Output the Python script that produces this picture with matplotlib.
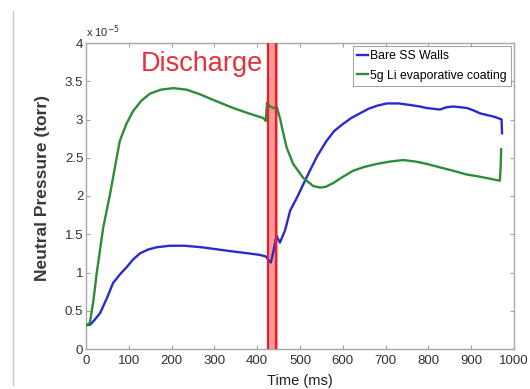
import matplotlib
matplotlib.use("Agg")
import matplotlib.pyplot as plt
from matplotlib.lines import Line2D

plt.rcParams['font.family'] = ['Liberation Sans', 'DejaVu Sans']

# Bare stainless-steel walls (pressure in units of 1e-5 torr)
bare_t = [0, 10, 20, 33, 50, 63, 80, 95, 110, 126, 145, 165, 196, 230, 270, 310, 350, 380,
          406, 420, 427, 432, 438, 445, 453, 465, 477, 493, 510, 523, 540, 562, 580, 600,
          620, 640, 660, 680, 703, 730, 757, 780, 796, 812, 827, 842, 858, 875, 890, 905,
          921, 936, 951, 962, 971, 972]
bare_p = [0.31, 0.32, 0.38, 0.47, 0.68, 0.86, 0.98, 1.07, 1.17, 1.25, 1.30, 1.33, 1.35, 1.35,
          1.33, 1.30, 1.27, 1.25, 1.23, 1.21, 1.16, 1.13, 1.28, 1.48, 1.39, 1.55, 1.81, 1.98,
          2.18, 2.33, 2.52, 2.72, 2.85, 2.94, 3.02, 3.08, 3.14, 3.18, 3.21, 3.21, 3.19, 3.17,
          3.15, 3.14, 3.13, 3.16, 3.17, 3.16, 3.15, 3.12, 3.08, 3.06, 3.04, 3.02, 3.00, 2.82]

# Lithium-coated walls (5 g evaporative coating)
li_t = [0, 9, 17, 25, 40, 56, 70, 79, 95, 110, 130, 150, 175, 204, 235, 266, 300, 344, 380,
        414, 420, 423, 430, 438, 446, 453, 461, 469, 484, 507, 531, 547, 560, 578, 600, 624,
        650, 680, 710, 741, 770, 796, 830, 858, 890, 913, 940, 967, 969, 970]
li_p = [0.31, 0.34, 0.62, 0.99, 1.58, 2.02, 2.45, 2.72, 2.95, 3.11, 3.25, 3.34, 3.39, 3.41,
        3.39, 3.33, 3.25, 3.15, 3.08, 3.02, 2.98, 3.22, 3.17, 3.15, 3.16, 3.02, 2.82, 2.63,
        2.42, 2.24, 2.13, 2.11, 2.12, 2.17, 2.25, 2.33, 2.38, 2.42, 2.45, 2.47, 2.45, 2.42,
        2.37, 2.33, 2.28, 2.26, 2.23, 2.20, 2.40, 2.61]

discharge_start, discharge_end = 423, 448
discharge_lines = [426, 444]

x_ticks = [0, 100, 200, 300, 400, 500, 600, 700, 800, 900, 1000]
y_ticks = [0, 0.5, 1, 1.5, 2, 2.5, 3, 3.5, 4]
y_ticklabels = ['0', '0.5', '1', '1.5', '2', '2.5', '3', '3.5', '4']

fig = plt.figure(figsize=(5.30, 3.89), dpi=100)
ax = fig.add_axes([86 / 530, 1 - 349 / 389, 428 / 530, 306 / 389])

# discharge window
ax.axvspan(discharge_start, discharge_end, color='#ff8080', alpha=0.8, lw=0, zorder=1)
for xv in discharge_lines:
    ax.axvline(xv, color='#e8202a', lw=1.6, zorder=4)

ax.plot(bare_t, bare_p, color='#2a2ad0', lw=1.7, label='Bare SS Walls', zorder=3)
ax.plot(li_t, li_p, color='#2e8b3a', lw=1.7, label='5g Li evaporative coating', zorder=3)

ax.text(270, 3.55, 'Discharge', color='#e8303a', fontsize=19.5, ha='center', va='bottom')

ax.set_xlim(0, 1000)
ax.set_ylim(0, 4)
ax.set_xticks(x_ticks)
ax.set_yticks(y_ticks)
ax.set_yticklabels(y_ticklabels)
ax.tick_params(direction='in', length=3, width=0.8, colors='#a0a0a0', labelcolor='#303030',
               labelsize=9.5, top=True, right=True, pad=2)
ax.tick_params(axis='x', pad=4)
for s in ax.spines.values():
    s.set_color('#a8a8a8')
    s.set_linewidth(1.0)

ax.text(0, 4.04, r'x 10$^{-5}$', fontsize=8, color='#303030', ha='left', va='bottom',
        transform=ax.transData)

ax.set_xlabel('Time (ms)', fontsize=10.5, color='#202020', labelpad=5)
ax.set_ylabel('Neutral Pressure (torr)', fontsize=12.5, fontweight='bold', color='#383838')
ax.yaxis.set_label_coords(-0.084, 0.526)

leg = ax.legend(loc='upper right', fontsize=8.8, handlelength=0.9, handletextpad=0.15,
                borderpad=0.35, labelspacing=0.6, frameon=True, fancybox=False,
                borderaxespad=0.25)
leg.get_frame().set_edgecolor('#909090')
leg.get_frame().set_linewidth(0.8)

# page edge line on the left
fig.add_artist(Line2D([13 / 530, 13 / 530], [1 - 385 / 389, 1 - 11 / 389],
                      color='#c8c8c8', lw=1.0, transform=fig.transFigure))

fig.savefig('out.png', dpi=100)
